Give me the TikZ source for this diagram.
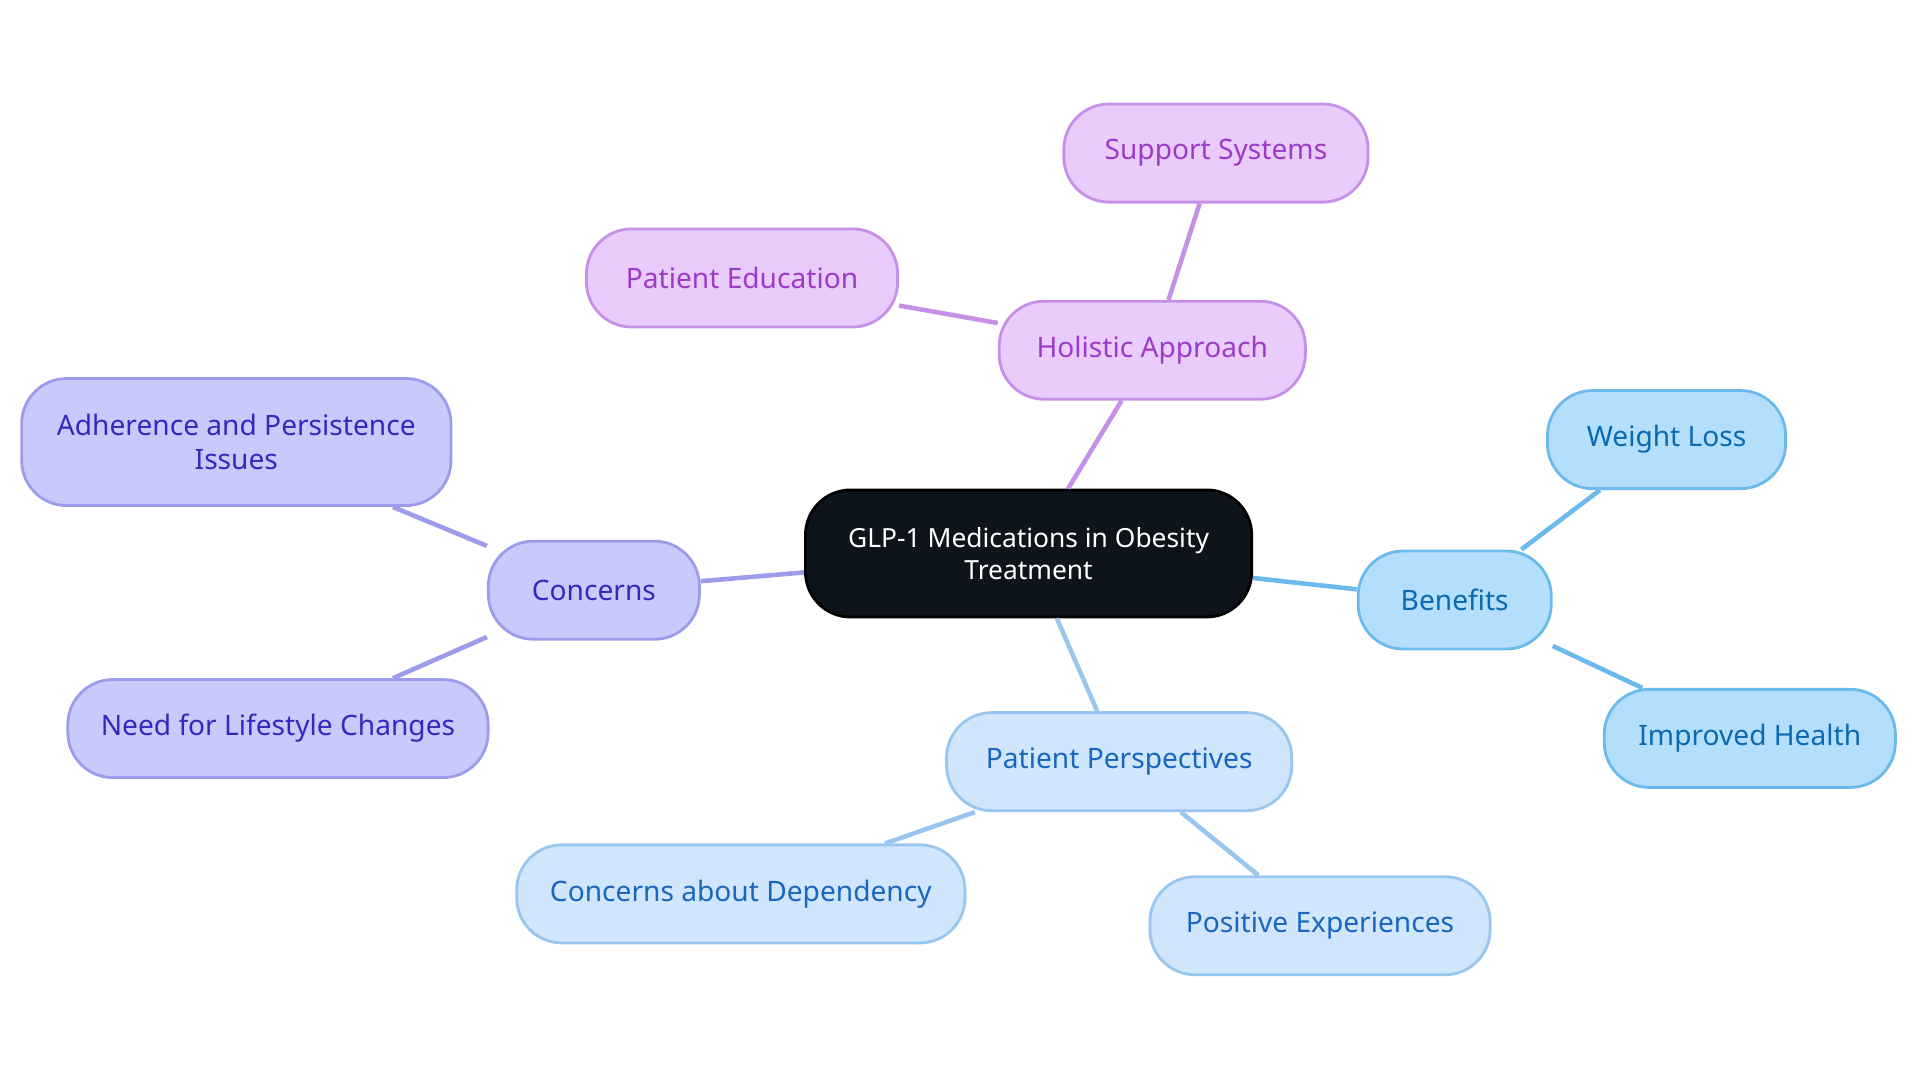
\documentclass[tikz,border=0pt]{standalone}
\usepackage{fontspec}
\setmainfont{Noto Sans}
\definecolor{rootfill}{HTML}{0D141C}
\definecolor{pinkfill}{HTML}{E9CBFC}\definecolor{pinkline}{HTML}{C690E8}\definecolor{pinktext}{HTML}{9A3CC8}
\definecolor{violfill}{HTML}{C9CAFC}\definecolor{violline}{HTML}{9C9CEA}\definecolor{violtext}{HTML}{3329BF}
\definecolor{bluefill}{HTML}{B4DFFC}\definecolor{blueline}{HTML}{6CB9EC}\definecolor{bluetext}{HTML}{0A69B0}
\definecolor{skyfill}{HTML}{D0E6FC}\definecolor{skyline}{HTML}{99C6EE}\definecolor{skytext}{HTML}{1A66BF}

\tikzset{
    box/.style={rounded corners=0.45cm, line width=0.8pt, align=center, inner sep=0pt,
        minimum height=0.98cm, font=\fontsize{8}{9.5}\selectfont},
    root/.style={box, fill=rootfill, draw=black, text=white, minimum height=1.27cm,
        minimum width=4.46cm, font=\fontsize{7.5}{9}\selectfont},
    pink/.style={box, fill=pinkfill, draw=pinkline, text=pinktext},
    viol/.style={box, fill=violfill, draw=violline, text=violtext},
    blue/.style={box, fill=bluefill, draw=blueline, text=bluetext},
    sky/.style={box, fill=skyfill, draw=skyline, text=skytext},
    link/.style={line width=1.3pt}
}

\begin{document}
\begin{tikzpicture}[x=0.012245cm, y=-0.012245cm]
    \useasboundingbox (0, 0) rectangle (1568, 884);

    \node[root] (glp) at (840, 452) {GLP-1 Medications in Obesity\\Treatment};

    \node[pink, minimum width=3.06cm] (holistic) at (941, 286) {Holistic Approach};
    \node[pink, minimum width=3.04cm] (support) at (993, 125) {Support Systems};
    \node[pink, minimum width=3.11cm] (education) at (606, 227) {Patient Education};

    \node[viol, minimum width=2.11cm] (concerns) at (485, 482) {Concerns};
    \node[viol, minimum width=4.29cm, minimum height=1.27cm] (adherence) at (193, 361) {Adherence and Persistence\\Issues};
    \node[viol, minimum width=4.20cm] (lifestyle) at (227, 595) {Need for Lifestyle Changes};

    \node[blue, minimum width=1.93cm] (benefits) at (1188, 490) {Benefits};
    \node[blue, minimum width=2.38cm] (weight) at (1361, 359) {Weight Loss};
    \node[blue, minimum width=2.91cm] (health) at (1429, 603) {Improved Health};

    \node[sky, minimum width=3.45cm] (perspectives) at (914, 622) {Patient Perspectives};
    \node[sky, minimum width=4.48cm] (dependency) at (605, 730) {Concerns about Dependency};
    \node[sky, minimum width=3.40cm] (positive) at (1078, 756) {Positive Experiences};

    \draw[link, pinkline] (glp) -- (holistic) (holistic) -- (support) (holistic) -- (education);
    \draw[link, violline] (glp) -- (concerns) (concerns) -- (adherence) (concerns) -- (lifestyle);
    \draw[link, blueline] (glp) -- (benefits) (benefits) -- (weight) (benefits) -- (health);
    \draw[link, skyline] (glp) -- (perspectives) (perspectives) -- (dependency) (perspectives) -- (positive);
\end{tikzpicture}
\end{document}
